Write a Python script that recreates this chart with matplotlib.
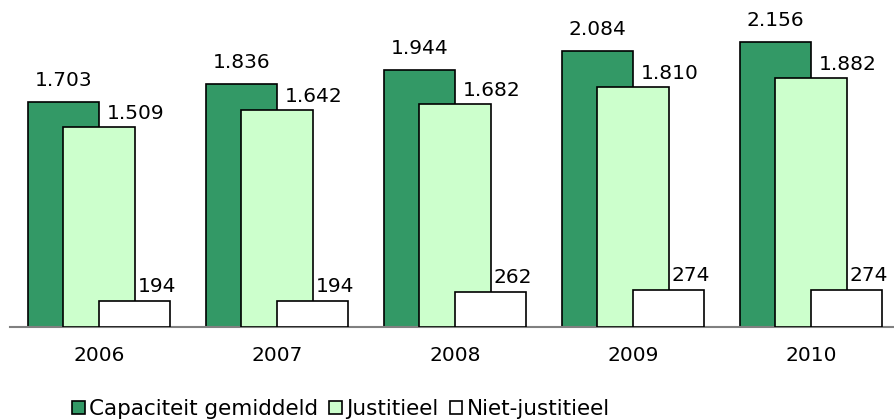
import numpy as np
import matplotlib.pyplot as plt

# data
jaren = ['2006', '2007', '2008', '2009', '2010']
capaciteit = [1703, 1836, 1944, 2084, 2156]
justitieel = [1509, 1642, 1682, 1810, 1882]
niet_justitieel = [194, 194, 262, 274, 274]

def fmt(v):
    # dutch thousands separator
    return '{:,}'.format(v).replace(',', '.')

fig = plt.figure(figsize=(8.95, 4.2), dpi=100)
ax = fig.add_axes([10/895, 93.3/420, 885/895, 326.7/420])

x = np.arange(len(jaren))
w = 0.4
b1 = ax.bar(x - 0.2, capaciteit, w, color='#339966', edgecolor='black', linewidth=1.2, zorder=2, label='Capaciteit gemiddeld')
b2 = ax.bar(x, justitieel, w, color='#CCFFCC', edgecolor='black', linewidth=1.2, zorder=3, label='Justitieel')
b3 = ax.bar(x + 0.2, niet_justitieel, w, color='white', edgecolor='black', linewidth=1.2, zorder=4, label='Niet-justitieel')

#labels
for i in range(len(jaren)):
    ax.annotate(fmt(capaciteit[i]), (x[i] - 0.2, capaciteit[i]), xytext=(0, 12), textcoords='offset pixels',
                ha='center', va='bottom', fontsize=14.5)
    ax.annotate(fmt(justitieel[i]), (x[i] + 0.2, justitieel[i]), xytext=(1, 4), textcoords='offset pixels',
                ha='center', va='bottom', fontsize=14.5)
    ax.annotate(fmt(niet_justitieel[i]), (x[i] + 0.2, niet_justitieel[i]), xytext=(22, 5), textcoords='offset pixels',
                ha='center', va='bottom', fontsize=14.5)

ax.set_xlim(-0.5, -0.5 + 885/178)
ax.set_ylim(0, 2471)
ax.set_xticks(x)
ax.set_xticklabels(jaren, fontsize=14.5)
ax.tick_params(axis='x', length=0, pad=14)
ax.set_yticks([])
for s in ['top', 'right', 'left']:
    ax.spines[s].set_visible(False)
ax.spines['bottom'].set_color('#808080')
ax.spines['bottom'].set_linewidth(1.5)

leg = fig.legend(handles=[b1, b2, b3], loc='center', bbox_to_anchor=(341/895, 1 - 409/420),
                 ncol=3, frameon=False, fontsize=15.5, handlelength=0.6, handleheight=0.6,
                 handletextpad=0.2, columnspacing=0.5, borderaxespad=0)

fig.savefig('out.png', dpi=100)
